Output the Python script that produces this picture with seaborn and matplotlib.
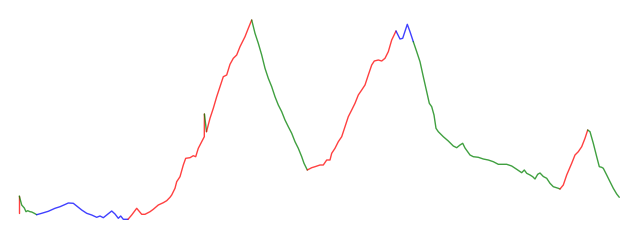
import numpy as np
import pandas as pd
import matplotlib
matplotlib.use("Agg")
import matplotlib.pyplot as plt
import seaborn as sns

# price path (day index, level)
days = [19.3, 19.3, 21.7, 24.3, 26, 27.7, 30, 31.7, 34.3, 36.7,
        41.7, 48.3, 55, 60, 65, 68.3, 73.3, 76.7, 81.7, 86.7, 91.7, 96.7, 100, 103.3,
        106.7, 111.7, 115, 118.3, 120.7, 123.3, 128,
        131.7, 136.7, 141.7, 145, 150, 153.3, 158.3, 163.3, 166.7, 170, 171.7, 175,
        176.7, 180, 183.3, 185.7, 190, 193.3, 195.7, 198.3, 201.7, 204.3, 204.4,
        206.5,
        210, 213.3, 216.7, 220, 223.3, 226.7, 230, 233.3, 236.7, 240, 245, 248.3, 251.7,
        255, 258.3, 261.7, 265, 268.3, 271.7, 275, 278.3, 281.7, 285, 288.3, 291.7, 295,
        298.3, 301.7, 304, 307.3,
        311.7, 315, 320, 323.3, 326.7, 330, 331.7, 335, 338.3, 341.7, 345, 348.3, 351.7,
        355, 358.3, 361.7, 365, 368.3, 371.7, 374.3, 378.3, 381.7, 385, 388.3, 391.7,
        393.3, 396,
        400, 402.7, 407.3, 410, 413.3,
        416.7, 420, 423.3, 426.7, 429.3, 431.7, 434, 436, 438.3, 443.3, 448.3, 453.3,
        456.7, 460, 462.7, 465, 470, 473.3, 478.3, 483.3, 488.3, 493.3, 498.3, 506.7,
        511.7, 516.7, 521.7, 524.3, 526.7, 530, 532.7, 535, 537.7, 540, 543.3, 546.7,
        550, 553.3, 558.3, 560,
        563.3, 566.7, 571.7, 575, 578.3, 581.7, 585, 587.7,
        590, 593.3, 596.7, 599.3, 601.7, 603.3, 606.7, 610, 613.3, 616.7, 619.3]

values = [27, 44, 35, 32, 28.3, 29.3, 28.3, 28, 26.7, 25.3,
          26.7, 28.7, 31.7, 33.3, 35.5, 37, 36.7, 34, 30, 26.7, 25, 22.7, 24, 22.3,
          25, 29, 26, 21.7, 24, 20.7, 20.7,
          25, 31.7, 25.7, 25.7, 28.3, 30.7, 35, 37.3, 39.3, 42.7, 45, 51.7,
          58.3, 63.3, 75, 81.7, 82.3, 84.3, 83.3, 91.7, 98.3, 103.3, 126,
          108.3,
          121.7, 131.7, 143.3, 153.3, 163.3, 165, 175.7, 181.7, 185, 193.3, 203.3, 211.7, 220,
          206.7, 196.7, 185, 171.7, 161.7, 153.3, 143.3, 135, 128.3, 120, 113.3, 106.7, 98.3,
          91.7, 83.3, 76.7, 70,
          72.3, 73.3, 75, 75, 80, 80, 86.7, 91.7, 98.3, 103.3, 113.3, 123.3, 130,
          136.7, 145, 150, 155, 165, 175, 179, 180, 179, 181.7, 188.3, 200,
          203.3, 209,
          201, 201.7, 215.7, 208.3, 198.3,
          188.3, 178.3, 163.3, 148.3, 136.7, 133.3, 125, 111.7, 108.3, 103.3, 99, 94,
          92.3, 95, 96.7, 92, 85, 83.3, 82.7, 81, 80, 78.3, 75.7, 75.7,
          74, 70.7, 67.3, 70, 66.7, 65, 63.3, 61, 65.7, 67, 63.5, 61.7,
          56.7, 53.3, 51.7, 51,
          55, 65, 76.7, 85, 88.3, 93.3, 101.7, 110,
          108.3, 96.7, 83.3, 73.3, 72.7, 71.7, 65, 58.3, 51.7, 46, 42.7]

# regime of each stretch, and the day at which each new regime starts
regimes = ["up", "down", "flat", "up", "down", "up", "down", "up", "flat", "down", "up", "down"]
regime_start_days = [19.3, 19.3, 36.7, 128, 204.4, 206.5, 251.7, 307.3, 396, 413.3, 560, 587.7]

regime_colors = {"up": "red", "down": "green", "flat": "blue"}

days_arr = np.array(days)
starts = [0] + [int(np.where(days_arr == d)[0][-1]) for d in regime_start_days[1:]]
ends = starts[1:] + [len(days) - 1]

rows = []
for seg, (s, e, r) in enumerate(zip(starts, ends, regimes)):
    for i in range(s, e + 1):
        rows.append({"day": days[i], "value": values[i], "seg": seg, "regime": r})
df = pd.DataFrame(rows)
palette = {seg: regime_colors[r] for seg, r in enumerate(regimes)}

sns.set_style("white")
fig = plt.figure(figsize=(6.4, 2.4), dpi=100)
ax = fig.add_axes([0, 0, 1, 1])
sns.lineplot(data=df, x="day", y="value", hue="seg", palette=palette, sort=False,
             estimator=None, legend=False, linewidth=1.0, alpha=0.75, ax=ax)
ax.set_xlim(0, 640)
ax.set_ylim(0, 240)
ax.axis("off")
fig.savefig("out.png", dpi=100)
